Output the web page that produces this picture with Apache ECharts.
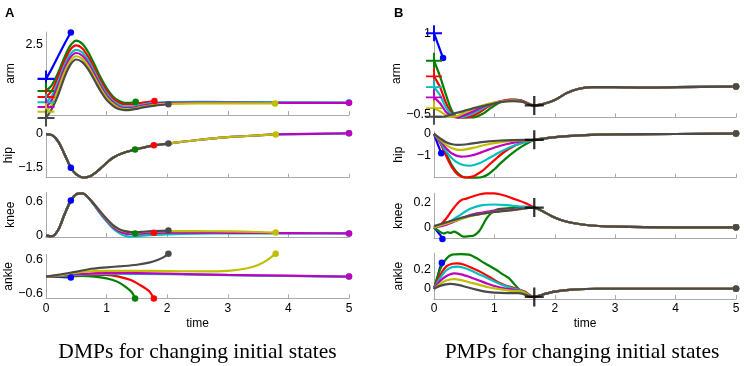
<!DOCTYPE html>
<html>
<head>
<meta charset="utf-8">
<script src="https://cdn.jsdelivr.net/npm/echarts@6/dist/echarts.min.js"></script>
<style>
  html, body { margin: 0; padding: 0; background: #fff; }
  #chart { width: 744px; height: 366px; }
</style>
</head>
<body>
<div id="chart"></div>
<script>
// trajectory colours, in plotting order
var colors = ["#0000ff", "#008000", "#ff0000", "#00bfbf", "#bf00bf", "#bfbf00", "#4a4a4a"];
var jointNames = ["arm", "hip", "knee", "ankle"];

// ---- panel A: DMPs, [time, value] per trajectory ----
var armA = [
  [[0,1.22],[0.1,1.62],[0.2,2.06],[0.3,2.5],[0.41,2.94]],
  [[0,0.77],[0.1,1.0],[0.2,1.45],[0.3,2.0],[0.4,2.45],[0.5,2.64],[0.6,2.52],[0.7,2.2],[0.8,1.75],[0.9,1.28],[1.0,0.88],[1.1,0.58],[1.2,0.41],[1.3,0.33],[1.4,0.33],[1.48,0.37]],
  [[0,0.55],[0.1,0.8],[0.2,1.3],[0.3,1.85],[0.4,2.3],[0.5,2.46],[0.6,2.35],[0.7,2.03],[0.8,1.6],[0.9,1.15],[1.0,0.78],[1.1,0.5],[1.2,0.34],[1.3,0.27],[1.4,0.27],[1.5,0.3],[1.6,0.34],[1.79,0.4]],
  [[0,0.35],[0.1,0.6],[0.2,1.12],[0.3,1.7],[0.4,2.13],[0.5,2.3],[0.6,2.2],[0.7,1.9],[0.8,1.48],[0.9,1.05],[1.0,0.68],[1.1,0.42],[1.2,0.26],[1.3,0.19],[1.4,0.19],[1.5,0.23],[1.6,0.27],[1.8,0.33],[2.0,0.36],[2.5,0.37],[3,0.36],[4,0.35],[5,0.34]],
  [[0,0.18],[0.1,0.45],[0.2,0.98],[0.3,1.58],[0.4,2.01],[0.5,2.18],[0.6,2.08],[0.7,1.79],[0.8,1.38],[0.9,0.96],[1.0,0.6],[1.1,0.36],[1.2,0.2],[1.3,0.14],[1.4,0.14],[1.5,0.18],[1.6,0.23],[1.8,0.3],[2.0,0.33],[2.5,0.34],[3,0.34],[4,0.33],[5,0.33]],
  [[0,0.0],[0.1,0.28],[0.2,0.82],[0.3,1.43],[0.4,1.88],[0.5,2.06],[0.6,1.96],[0.7,1.68],[0.8,1.28],[0.9,0.87],[1.0,0.52],[1.1,0.3],[1.2,0.15],[1.3,0.1],[1.4,0.1],[1.5,0.14],[1.6,0.19],[1.8,0.26],[2.0,0.29],[2.5,0.31],[3,0.31],[3.78,0.31]],
  [[0,-0.23],[0.1,0.12],[0.2,0.62],[0.3,1.25],[0.4,1.74],[0.5,1.94],[0.6,1.84],[0.7,1.56],[0.8,1.17],[0.9,0.77],[1.0,0.44],[1.1,0.23],[1.2,0.1],[1.3,0.06],[1.4,0.07],[1.5,0.11],[1.6,0.16],[1.8,0.23],[2.02,0.28]]
];
// hip is the same path for every run; each run stops at its own end point
var hipAPath = [[0,0],[0.1,-0.05],[0.2,-0.33],[0.3,-0.88],[0.41,-1.52],[0.5,-1.82],[0.62,-1.96],[0.72,-1.92],[0.82,-1.74],[0.92,-1.5],[1.02,-1.25],[1.12,-1.05],[1.25,-0.88],[1.47,-0.7],[1.78,-0.51],[2.02,-0.43],[2.5,-0.27],[3,-0.14],[3.5,-0.06],[3.79,-0.02],[4.4,0.01],[5,0.03]];
var endTimesA = [0.41, 1.47, 1.78, 5, 5, 3.79, 2.02];
var kneeA = [
  [[0,0],[0.1,-0.01],[0.2,0.1],[0.3,0.36],[0.41,0.62]],
  [[0,0],[0.1,-0.01],[0.2,0.1],[0.3,0.36],[0.4,0.6],[0.5,0.73],[0.6,0.745],[0.7,0.67],[0.8,0.54],[0.9,0.4],[1.0,0.27],[1.1,0.16],[1.2,0.09],[1.3,0.05],[1.47,0.04]],
  [[0,0],[0.1,-0.01],[0.2,0.1],[0.3,0.36],[0.4,0.6],[0.5,0.73],[0.6,0.745],[0.7,0.67],[0.8,0.54],[0.9,0.4],[1.0,0.27],[1.1,0.16],[1.2,0.09],[1.3,0.05],[1.5,0.04],[1.78,0.05]],
  [[0,0],[0.1,-0.01],[0.2,0.1],[0.3,0.36],[0.4,0.6],[0.5,0.73],[0.6,0.745],[0.7,0.66],[0.8,0.53],[0.9,0.38],[1.0,0.25],[1.1,0.13],[1.2,0.05],[1.3,0.0],[1.4,-0.015],[1.5,-0.01],[1.6,0.0],[1.8,0.015],[2.0,0.025],[2.5,0.035],[3,0.04],[4,0.04],[5,0.04]],
  [[0,0],[0.1,-0.01],[0.2,0.1],[0.3,0.36],[0.4,0.6],[0.5,0.73],[0.6,0.745],[0.7,0.67],[0.8,0.54],[0.9,0.4],[1.0,0.27],[1.1,0.16],[1.2,0.08],[1.3,0.04],[1.4,0.03],[1.5,0.035],[1.6,0.04],[1.8,0.05],[2.0,0.055],[2.5,0.055],[3,0.05],[4,0.045],[5,0.04]],
  [[0,0],[0.1,-0.01],[0.2,0.1],[0.3,0.36],[0.4,0.6],[0.5,0.73],[0.6,0.745],[0.7,0.67],[0.8,0.55],[0.9,0.42],[1.0,0.29],[1.1,0.18],[1.2,0.11],[1.3,0.075],[1.4,0.06],[1.5,0.06],[1.6,0.065],[1.8,0.075],[2.0,0.08],[2.5,0.08],[3,0.075],[3.5,0.065],[3.79,0.055]],
  [[0,0],[0.1,-0.01],[0.2,0.1],[0.3,0.36],[0.4,0.6],[0.5,0.73],[0.6,0.745],[0.7,0.67],[0.8,0.55],[0.9,0.42],[1.0,0.3],[1.1,0.19],[1.2,0.12],[1.3,0.08],[1.4,0.065],[1.5,0.065],[1.6,0.07],[1.8,0.08],[2.02,0.09]]
];
var ankleA = [
  [[0,0],[0.2,-0.01],[0.41,-0.03]],
  [[0,0],[0.4,0.01],[0.6,0.02],[0.8,0.0],[1.0,-0.06],[1.1,-0.12],[1.2,-0.2],[1.33,-0.38],[1.42,-0.55],[1.47,-0.76]],
  [[0,0],[0.4,0.03],[0.7,0.07],[1.0,0.06],[1.2,0.0],[1.4,-0.12],[1.55,-0.29],[1.7,-0.5],[1.78,-0.76]],
  [[0,0],[0.5,0.06],[1,0.1],[2,0.08],[3,0.05],[4,0.02],[5,0.0]],
  [[0,0],[0.5,0.08],[1.0,0.13],[1.5,0.12],[2,0.1],[3,0.06],[4,0.03],[5,0.0]],
  [[0,0],[0.3,0.07],[0.6,0.16],[1.0,0.2],[1.5,0.2],[2.0,0.19],[2.5,0.18],[3.0,0.2],[3.3,0.28],[3.5,0.4],[3.65,0.57],[3.79,0.79]],
  [[0,0],[0.25,0.08],[0.5,0.17],[0.75,0.27],[1.0,0.32],[1.25,0.36],[1.5,0.41],[1.7,0.48],[1.85,0.58],[1.95,0.68],[2.02,0.79]]
];

// ---- panel B: PMPs, runs up to the via point, then a shared tail ----
var viaTime = 1.66;
var viaB = [-0.34, -0.27, 0.16, -0.085];
var armB = [
  [[0,1.0],[0.15,0.54]],
  [[0,0.49],[0.1,0.2],[0.2,-0.15],[0.3,-0.45],[0.4,-0.56],[0.5,-0.56],[0.65,-0.56],[0.8,-0.5],[0.95,-0.38],[1.1,-0.28],[1.3,-0.23],[1.45,-0.25],[1.66,-0.35]],
  [[0,0.2],[0.1,0.0],[0.2,-0.3],[0.3,-0.5],[0.4,-0.56],[0.5,-0.56],[0.6,-0.55],[0.75,-0.47],[0.9,-0.36],[1.05,-0.28],[1.25,-0.23],[1.45,-0.25],[1.66,-0.34]],
  [[0,0.0],[0.1,-0.15],[0.2,-0.38],[0.3,-0.52],[0.4,-0.56],[0.5,-0.55],[0.6,-0.51],[0.75,-0.43],[0.9,-0.34],[1.1,-0.27],[1.3,-0.24],[1.45,-0.26],[1.66,-0.34]],
  [[0,-0.19],[0.1,-0.3],[0.2,-0.46],[0.3,-0.54],[0.4,-0.56],[0.5,-0.52],[0.65,-0.45],[0.8,-0.37],[1.0,-0.29],[1.2,-0.25],[1.4,-0.25],[1.66,-0.34]],
  [[0,-0.39],[0.1,-0.45],[0.2,-0.52],[0.3,-0.55],[0.4,-0.53],[0.55,-0.45],[0.7,-0.38],[0.9,-0.31],[1.1,-0.27],[1.3,-0.25],[1.45,-0.27],[1.66,-0.34]],
  [[0,-0.55],[0.15,-0.55],[0.3,-0.5],[0.5,-0.44],[0.7,-0.38],[0.9,-0.33],[1.1,-0.28],[1.3,-0.26],[1.45,-0.27],[1.66,-0.34]]
];
var armBTail = [[1.85,-0.3],[2.0,-0.24],[2.2,-0.11],[2.4,-0.03],[2.6,0.0],[3,0.0],[3.5,-0.01],[4,0.0],[5,0.01]];
var hipB = [
  [[0,0],[0.06,-0.45],[0.12,-0.89]],
  [[0,0],[0.1,-0.35],[0.2,-0.9],[0.3,-1.45],[0.4,-1.82],[0.52,-2.0],[0.7,-2.01],[0.8,-1.98],[0.9,-1.85],[1.0,-1.62],[1.1,-1.35],[1.25,-0.98],[1.45,-0.58],[1.66,-0.27]],
  [[0,0],[0.1,-0.4],[0.2,-1.0],[0.3,-1.55],[0.4,-1.88],[0.52,-2.0],[0.65,-1.95],[0.8,-1.7],[0.9,-1.45],[1.0,-1.2],[1.15,-0.85],[1.35,-0.52],[1.5,-0.37],[1.66,-0.27]],
  [[0,0],[0.1,-0.35],[0.2,-0.8],[0.35,-1.25],[0.5,-1.44],[0.6,-1.46],[0.75,-1.35],[0.9,-1.13],[1.1,-0.82],[1.3,-0.56],[1.5,-0.38],[1.66,-0.27]],
  [[0,0],[0.1,-0.3],[0.2,-0.65],[0.3,-0.9],[0.45,-1.04],[0.6,-1.0],[0.75,-0.88],[0.9,-0.72],[1.1,-0.54],[1.3,-0.41],[1.5,-0.32],[1.66,-0.27]],
  [[0,0],[0.1,-0.25],[0.2,-0.5],[0.3,-0.66],[0.4,-0.73],[0.5,-0.72],[0.65,-0.64],[0.8,-0.53],[1.0,-0.42],[1.2,-0.34],[1.4,-0.3],[1.66,-0.27]],
  [[0,0],[0.1,-0.2],[0.2,-0.38],[0.3,-0.47],[0.4,-0.5],[0.55,-0.47],[0.7,-0.41],[0.9,-0.34],[1.1,-0.3],[1.3,-0.28],[1.5,-0.27],[1.66,-0.27]]
];
var hipBTail = [[1.9,-0.18],[2.2,-0.1],[2.5,-0.05],[3,-0.02],[4,0.0],[5,0.02]];
var kneeB = [
  [[0,0],[0.05,-0.03],[0.1,-0.06],[0.14,-0.095]],
  [[0,0],[0.08,-0.03],[0.16,-0.05],[0.22,-0.04],[0.28,-0.045],[0.33,-0.035],[0.4,-0.05],[0.49,-0.076],[0.58,-0.072],[0.65,-0.068],[0.75,-0.03],[0.87,0.073],[0.96,0.12],[1.04,0.145],[1.26,0.155],[1.5,0.16],[1.66,0.16]],
  [[0,0],[0.1,0.02],[0.2,0.07],[0.3,0.14],[0.4,0.2],[0.47,0.225],[0.55,0.235],[0.7,0.26],[0.85,0.275],[1.0,0.275],[1.15,0.26],[1.3,0.235],[1.5,0.2],[1.66,0.16]],
  [[0,0],[0.2,0.03],[0.4,0.09],[0.6,0.15],[0.8,0.18],[1.0,0.185],[1.2,0.18],[1.4,0.17],[1.66,0.16]],
  [[0,0],[0.2,0.02],[0.4,0.06],[0.6,0.1],[0.8,0.12],[1.0,0.135],[1.3,0.145],[1.66,0.16]],
  [[0,0],[0.2,0.03],[0.4,0.06],[0.6,0.09],[0.8,0.11],[1.0,0.125],[1.3,0.14],[1.66,0.16]],
  [[0,0.01],[0.2,0.04],[0.4,0.07],[0.6,0.095],[0.8,0.11],[1.0,0.125],[1.3,0.14],[1.66,0.16]]
];
var kneeBTail = [[1.8,0.13],[1.95,0.09],[2.1,0.06],[2.3,0.035],[2.6,0.015],[3,0.005],[4,0],[5,0]];
var ankleB = [
  [[0,0],[0.05,0.1],[0.1,0.22],[0.13,0.27]],
  [[0,0],[0.1,0.2],[0.2,0.31],[0.3,0.355],[0.45,0.36],[0.58,0.355],[0.7,0.32],[0.8,0.28],[0.9,0.245],[1.02,0.2],[1.14,0.15],[1.24,0.11],[1.32,0.055],[1.4,0.0],[1.5,-0.06],[1.66,-0.085]],
  [[0,0],[0.1,0.14],[0.2,0.23],[0.3,0.26],[0.38,0.265],[0.5,0.25],[0.65,0.21],[0.8,0.165],[0.95,0.11],[1.07,0.065],[1.2,0.03],[1.35,0.005],[1.5,-0.03],[1.66,-0.085]],
  [[0,0],[0.1,0.11],[0.2,0.19],[0.3,0.225],[0.4,0.23],[0.55,0.205],[0.7,0.165],[0.85,0.12],[1.0,0.075],[1.15,0.035],[1.3,0.005],[1.45,-0.02],[1.66,-0.085]],
  [[0,0],[0.1,0.08],[0.2,0.13],[0.33,0.16],[0.45,0.15],[0.6,0.12],[0.75,0.085],[0.9,0.05],[1.05,0.02],[1.2,0.0],[1.4,-0.02],[1.66,-0.085]],
  [[0,0],[0.1,0.05],[0.2,0.085],[0.33,0.1],[0.45,0.09],[0.6,0.065],[0.75,0.04],[0.9,0.015],[1.05,0.0],[1.25,-0.02],[1.45,-0.03],[1.66,-0.085]],
  [[0,0],[0.1,0.03],[0.27,0.05],[0.4,0.04],[0.55,0.015],[0.7,-0.01],[0.85,-0.03],[1.0,-0.04],[1.2,-0.045],[1.4,-0.045],[1.66,-0.085]]
];
var ankleBTail = [[1.8,-0.06],[2.0,-0.03],[2.3,-0.01],[2.7,0.0],[3.5,0.0],[5,0.0]];

// axis ranges [min, max] and labelled ticks per subplot
var rangesA = [[-0.12, 2.96], [-1.97, 0.06], [-0.023, 0.765], [-0.75, 0.77]];
var ticksA = [[2.5], [-1.5, 0], [0, 0.6], [-0.6, 0.6]];
var rangesB = [[-0.56, 1.06], [-2.01, 0.106], [-0.089, 0.276], [-0.107, 0.369]];
var ticksB = [[-0.5, 1], [-1, 0], [0, 0.2], [0, 0.2]];
var xTicks = [0, 1, 2, 3, 4, 5];

// layout of the 8 plot boxes (px)
var boxesA = [[32, 83], [132.7, 45], [192.3, 44.7], [254.3, 44]];
var boxesB = [[30, 87.3], [131.7, 46], [193.3, 45], [253.3, 45.7]];

var plusPath = "path://M-1.2,-10L1.2,-10L1.2,10L-1.2,10ZM-10,-1.2L10,-1.2L10,1.2L-10,1.2Z";
var sans = "Liberation Sans";
var axisGray = "#ababab";

var grids = [], xAxes = [], yAxes = [], series = [];

function addPanel(left, width, boxes, ranges, ticks) {
  boxes.forEach(function (b, j) {
    var gi = grids.length;
    grids.push({ left: left, top: b[0], width: width, height: b[1], outerBoundsMode: "none" });
    var last = j === boxes.length - 1;
    xAxes.push({
      type: "value", gridIndex: gi, min: xTicks[0], max: xTicks[xTicks.length - 1], interval: 1,
      axisLine: { onZero: false, lineStyle: { color: axisGray, width: 1 } },
      axisTick: { inside: true, length: 4, lineStyle: { color: axisGray } },
      axisLabel: { show: last, fontSize: 12, color: "#000", fontFamily: sans, margin: 4 },
      splitLine: { show: false },
      name: last ? "time" : "", nameLocation: "middle", nameGap: 19,
      nameTextStyle: { fontSize: 12, color: "#000", fontFamily: sans }
    });
    yAxes.push({
      type: "value", gridIndex: gi, min: ranges[j][0], max: ranges[j][1],
      axisLine: { show: true, onZero: false, lineStyle: { color: axisGray, width: 1 } },
      axisTick: { show: false },
      splitLine: { show: false },
      axisLabel: {
        customValues: ticks[j], fontSize: 12.5, color: "#000", fontFamily: sans, margin: 3,
        formatter: function (v) { return String(v).replace("-", "\u2212"); }
      },
      name: jointNames[j], nameLocation: "middle", nameRotate: 90, nameGap: 29,
      nameTextStyle: { fontSize: 12, color: "#000", fontFamily: sans }
    });
  });
}

function addTrack(gi, pts, k, startPlus, plusSize) {
  series.push({
    type: "line", xAxisIndex: gi, yAxisIndex: gi,
    data: pts.map(function (p, j) {
      var item = { value: p };
      if (j === pts.length - 1) { item.symbol = "circle"; item.symbolSize = 6.5; }
      else if (j === 0 && startPlus) { item.symbol = plusPath; item.symbolSize = plusSize; }
      return item;
    }),
    symbol: "none", smooth: 0.3, clip: false, silent: true,
    color: colors[k],
    lineStyle: { color: colors[k], width: 2.2 },
    itemStyle: { color: colors[k], borderWidth: 0 }
  });
}

addPanel(46, 303, boxesA, rangesA, ticksA);
addPanel(434, 302, boxesB, rangesB, ticksB);

// panel A
armA.forEach(function (pts, k) { addTrack(0, pts, k, true, 17); });
endTimesA.forEach(function (te, k) {
  var pts = hipAPath.filter(function (p) { return p[0] <= te; });
  addTrack(1, pts, k, false);
});
kneeA.forEach(function (pts, k) { addTrack(2, pts, k, false); });
ankleA.forEach(function (pts, k) { addTrack(3, pts, k, false); });

// panel B
var headsB = [armB, hipB, kneeB, ankleB];
var tailsB = [armBTail, hipBTail, kneeBTail, ankleBTail];
headsB.forEach(function (heads, j) {
  heads.forEach(function (pts, k) {
    var full = k === 0 ? pts : pts.concat(tailsB[j]);
    addTrack(4 + j, full, k, j === 0, 16);
  });
  series.push({
    type: "scatter", xAxisIndex: 4 + j, yAxisIndex: 4 + j, silent: true, z: 5,
    symbol: plusPath, symbolSize: 19, itemStyle: { color: "#000" },
    data: [[viaTime, viaB[j]]]
  });
});

var chart = echarts.init(document.getElementById("chart"), null, { renderer: "canvas" });
chart.setOption({
  animation: false,
  backgroundColor: "#fff",
  title: [
    { text: "A", left: 5, top: 7, padding: 0, textStyle: { fontSize: 13, fontWeight: "bold", color: "#000", fontFamily: sans } },
    { text: "B", left: 394, top: 7, padding: 0, textStyle: { fontSize: 13, fontWeight: "bold", color: "#000", fontFamily: sans } },
    { text: "DMPs for changing initial states", left: 197.5, textAlign: "center", top: 341, padding: 0,
      textStyle: { fontSize: 21.5, fontWeight: "normal", color: "#000", fontFamily: "Liberation Serif" } },
    { text: "PMPs for changing initial states", left: 582, textAlign: "center", top: 341, padding: 0,
      textStyle: { fontSize: 21.5, fontWeight: "normal", color: "#000", fontFamily: "Liberation Serif" } }
  ],
  grid: grids,
  xAxis: xAxes,
  yAxis: yAxes,
  series: series
});
</script>
</body>
</html>
